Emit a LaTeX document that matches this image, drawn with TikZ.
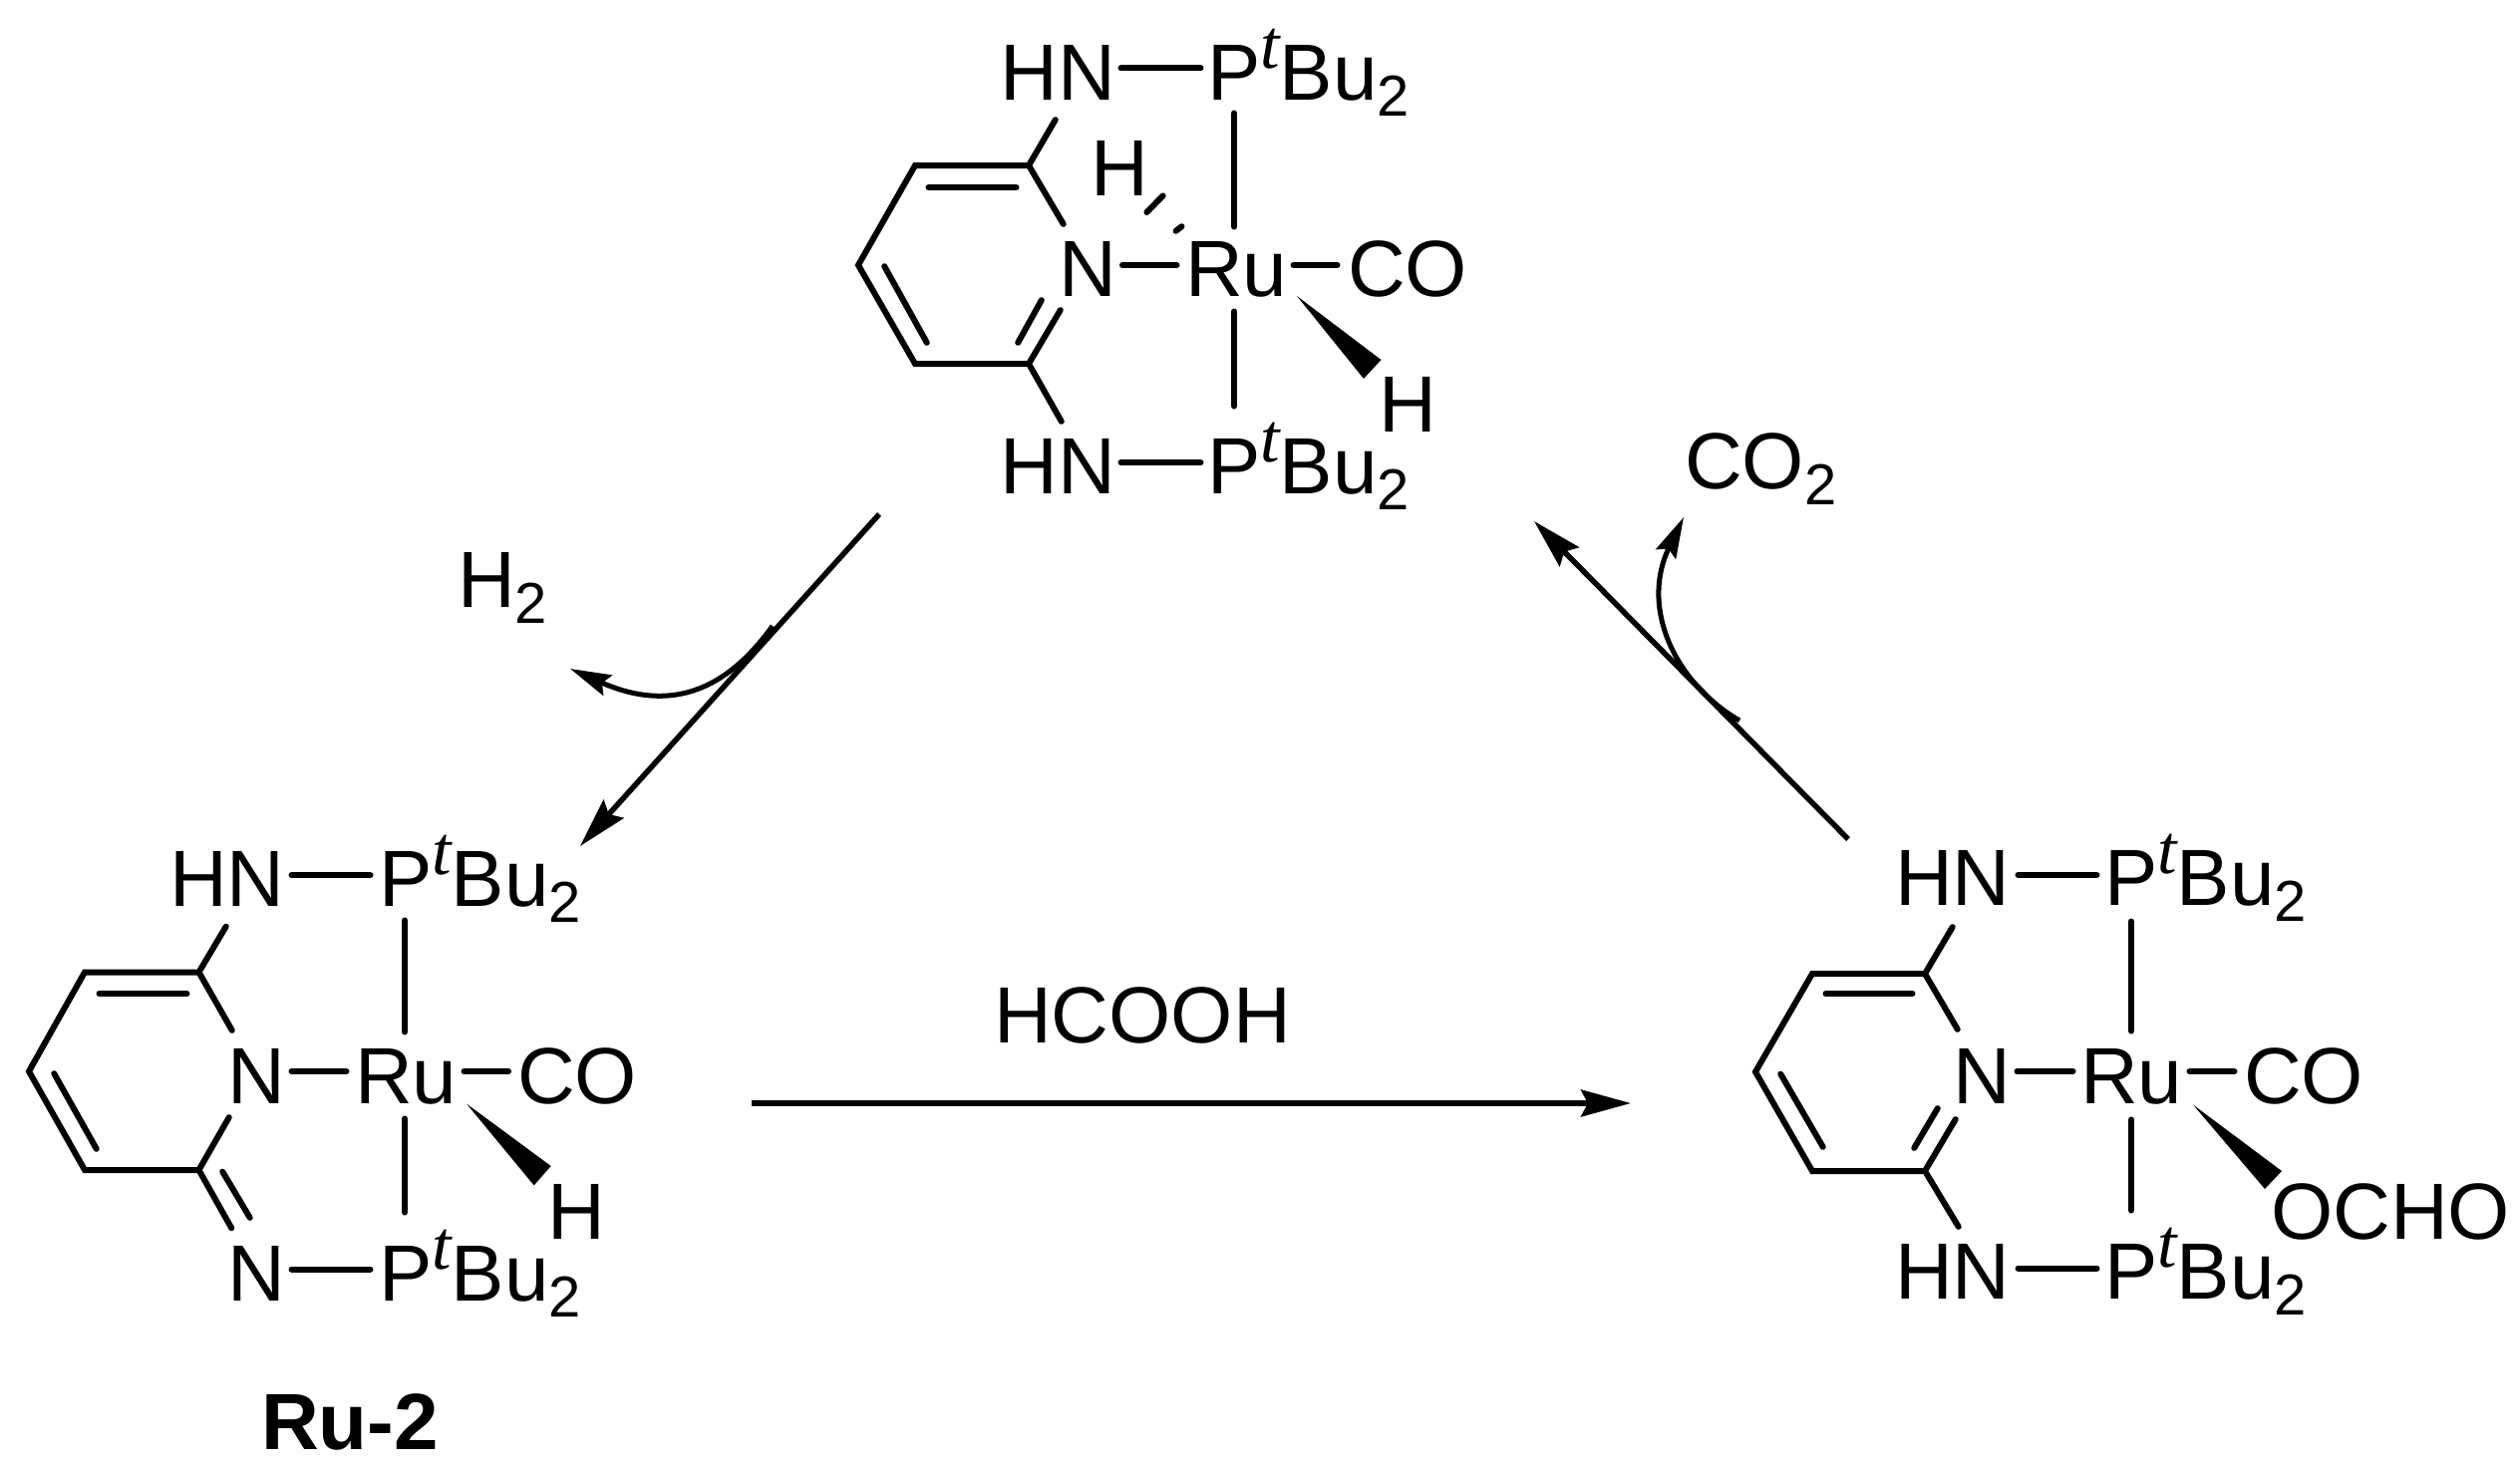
\documentclass[tikz,border=0pt]{standalone}
\usepackage{fontspec}
\setmainfont{Liberation Sans}
\newfontfamily\tfont{Liberation Serif}
\usetikzlibrary{arrows.meta}
\newcommand{\subtwo}{\raisebox{-16.5pt}{\fontsize{58}{58}\selectfont 2}}
\newcommand{\PtBu}{P\raisebox{32pt}{\fontsize{70}{70}\selectfont\tfont\itshape t}Bu\subtwo}
\tikzset{
  x=1pt,y=-1pt,
  atom/.style={anchor=base west,inner sep=0pt,outer sep=0pt,font=\fontsize{80}{80}\selectfont},
  boldlabel/.style={atom,font=\fontsize{80}{80}\selectfont\bfseries},
  bond/.style={draw=black,line width=6pt,line cap=round,line join=miter,shorten <=2.5pt,shorten >=2.5pt},
  hash/.style={draw=black,line width=6pt,line cap=round,shorten <=2pt,shorten >=2pt},
  wedge/.style={fill=black,draw=none},
  rxn/.style={draw=black,line width=5.5pt,-{Stealth[length=50pt,width=27pt,inset=7pt]}},
  loss/.style={draw=black,line width=5pt,-{Stealth[length=41pt,width=22pt,inset=6pt]}}
}
\begin{document}
\begin{tikzpicture}
\useasboundingbox (0,0) rectangle (2528,1472);

% ---------- top complex ----------
\node[atom] (tHN1) at (1003.5,100) {HN};
\node[atom] (tP1) at (1211,100) {\PtBu};
\node[atom] (tN) at (1062,297) {N};
\node[atom] (tRu) at (1189,297) {Ru};
\node[atom] (tCO) at (1352,297) {CO};
\node[atom] (tHN2) at (1003.5,495) {HN};
\node[atom] (tP2) at (1211,495) {\PtBu};
\node[atom] (tHa) at (1094,196) {H};
\node[atom] (tHb) at (1383,433) {H};
\coordinate (tr1) at (1032,166);
\coordinate (tr2) at (918,166);
\coordinate (tr3) at (861,266);
\coordinate (tr4) at (918,365);
\coordinate (tr5) at (1032,365);
\coordinate (tn1) at (1068,227);
\coordinate (tn2) at (1065,309);
\coordinate (th1) at (1060,118);
\coordinate (th2) at (1066,425);
\coordinate (ti1) at (929,188);
\coordinate (ti2) at (1022,188);
\coordinate (ti3) at (886,265);
\coordinate (ti4) at (931,346);
\coordinate (ti5) at (1046,299);
\coordinate (ti6) at (1020,346);
\coordinate (tb1) at (1122,68.5);
\coordinate (tb2) at (1207,68.5);
\coordinate (tb3) at (1122,464);
\coordinate (tb4) at (1207,464);
\coordinate (tv1) at (1238,111);
\coordinate (tv2) at (1238,230);
\coordinate (tv3) at (1238,310);
\coordinate (tv4) at (1238,410);
\coordinate (tm1) at (1123.5,266);
\coordinate (tm2) at (1183,266);
\coordinate (tm3) at (1295,266);
\coordinate (tm4) at (1344,266);
\coordinate (tw1) at (1301,297);
\coordinate (tw2) at (1385.5,361);
\coordinate (tw3) at (1368,380);
\coordinate (ts1) at (1168,195);
\coordinate (ts2) at (1149,214.5);
\coordinate (ts3) at (1187,226);
\coordinate (ts4) at (1178,233);
\draw[bond] (tn1) -- (tr1) -- (tr2) -- (tr3) -- (tr4) -- (tr5) -- (tn2);
\draw[bond] (tr1) -- (th1);
\draw[bond] (tr5) -- (th2);
\draw[bond] (ti1) -- (ti2);
\draw[bond] (ti3) -- (ti4);
\draw[bond] (ti5) -- (ti6);
\draw[bond] (tb1) -- (tb2);
\draw[bond] (tb3) -- (tb4);
\draw[bond] (tv1) -- (tv2);
\draw[bond] (tv3) -- (tv4);
\draw[bond] (tm1) -- (tm2);
\draw[bond] (tm3) -- (tm4);
\fill[wedge] (tw1) -- (tw2) -- (tw3) -- cycle;
\draw[hash] (ts1) -- (ts2);
\draw[hash] (ts3) -- (ts4);

% ---------- left complex (Ru-2) ----------
\node[atom] (lHN) at (170,909) {HN};
\node[atom] (lP1) at (380,909) {\PtBu};
\node[atom] (lN) at (228,1107.5) {N};
\node[atom] (lRu) at (356,1107.5) {Ru};
\node[atom] (lCO) at (519,1107.5) {CO};
\node[atom] (lN2) at (228,1305) {N};
\node[atom] (lP2) at (380,1305) {\PtBu};
\node[atom] (lH) at (549,1243) {H};
\node[boldlabel] (lname) at (262,1454) {Ru-2};
\coordinate (lr1) at (199.5,975.5);
\coordinate (lr2) at (85,975.5);
\coordinate (lr3) at (29,1075);
\coordinate (lr4) at (85,1174);
\coordinate (lr5) at (199.5,1174);
\coordinate (ln1) at (234,1036);
\coordinate (ln2) at (231,1119);
\coordinate (lh1) at (228,927.5);
\coordinate (lh2) at (233.5,1234.5);
\coordinate (li1) at (97,997);
\coordinate (li2) at (190,997);
\coordinate (li3) at (53,1075);
\coordinate (li4) at (98,1155);
\coordinate (li5) at (222,1173.5);
\coordinate (li6) at (252,1224);
\coordinate (lb1) at (290,878);
\coordinate (lb2) at (374,878);
\coordinate (lb3) at (290,1273.5);
\coordinate (lb4) at (374,1273.5);
\coordinate (lv1) at (406,921);
\coordinate (lv2) at (406,1038);
\coordinate (lv3) at (406,1120);
\coordinate (lv4) at (406,1219);
\coordinate (lm1) at (290,1075);
\coordinate (lm2) at (350,1075);
\coordinate (lm3) at (463,1075);
\coordinate (lm4) at (512.5,1075);
\coordinate (lw1) at (468,1107.5);
\coordinate (lw2) at (552.7,1170);
\coordinate (lw3) at (535.7,1189.4);
\draw[bond] (ln1) -- (lr1) -- (lr2) -- (lr3) -- (lr4) -- (lr5) -- (ln2);
\draw[bond] (lr1) -- (lh1);
\draw[bond] (lr5) -- (lh2);
\draw[bond] (li1) -- (li2);
\draw[bond] (li3) -- (li4);
\draw[bond] (li5) -- (li6);
\draw[bond] (lb1) -- (lb2);
\draw[bond] (lb3) -- (lb4);
\draw[bond] (lv1) -- (lv2);
\draw[bond] (lv3) -- (lv4);
\draw[bond] (lm1) -- (lm2);
\draw[bond] (lm3) -- (lm4);
\fill[wedge] (lw1) -- (lw2) -- (lw3) -- cycle;

% ---------- right complex ----------
\node[atom] (rHN1) at (1901,908) {HN};
\node[atom] (rP1) at (2111,908) {\PtBu};
\node[atom] (rN) at (1959,1107) {N};
\node[atom] (rRu) at (2087,1107) {Ru};
\node[atom] (rCO) at (2251,1107) {CO};
\node[atom] (rHN2) at (1901,1303) {HN};
\node[atom] (rP2) at (2111,1303) {\PtBu};
\node[atom] (rO) at (2278,1243) {OCHO};
\coordinate (rr1) at (1931,977);
\coordinate (rr2) at (1818,977);
\coordinate (rr3) at (1761,1075.5);
\coordinate (rr4) at (1818,1175);
\coordinate (rr5) at (1931,1175);
\coordinate (rn1) at (1965,1035);
\coordinate (rn2) at (1963,1121);
\coordinate (rh1) at (1960,928);
\coordinate (rh2) at (1966,1233);
\coordinate (ri1) at (1829,997);
\coordinate (ri2) at (1921,997);
\coordinate (ri3) at (1785,1075.5);
\coordinate (ri4) at (1830,1153);
\coordinate (ri5) at (1945,1110);
\coordinate (ri6) at (1919,1154);
\coordinate (rb1) at (2022,878);
\coordinate (rb2) at (2106,878);
\coordinate (rb3) at (2022,1272.5);
\coordinate (rb4) at (2106,1272.5);
\coordinate (rv1) at (2138,922);
\coordinate (rv2) at (2138,1037);
\coordinate (rv3) at (2138,1121);
\coordinate (rv4) at (2138,1217);
\coordinate (rm1) at (2021,1075);
\coordinate (rm2) at (2082,1075);
\coordinate (rm3) at (2194,1075);
\coordinate (rm4) at (2244,1075);
\coordinate (rw1) at (2200,1108.5);
\coordinate (rw2) at (2289,1175);
\coordinate (rw3) at (2272,1193);
\draw[bond] (rn1) -- (rr1) -- (rr2) -- (rr3) -- (rr4) -- (rr5) -- (rn2);
\draw[bond] (rr1) -- (rh1);
\draw[bond] (rr5) -- (rh2);
\draw[bond] (ri1) -- (ri2);
\draw[bond] (ri3) -- (ri4);
\draw[bond] (ri5) -- (ri6);
\draw[bond] (rb1) -- (rb2);
\draw[bond] (rb3) -- (rb4);
\draw[bond] (rv1) -- (rv2);
\draw[bond] (rv3) -- (rv4);
\draw[bond] (rm1) -- (rm2);
\draw[bond] (rm3) -- (rm4);
\fill[wedge] (rw1) -- (rw2) -- (rw3) -- cycle;

% ---------- reaction arrows and labels ----------
\node[atom] (hh) at (459,609) {H\subtwo};
\node[atom] (co2) at (1690,490) {CO\subtwo};
\node[atom] (acid) at (997,1046) {HCOOH};
\coordinate (a1s) at (882,516);
\coordinate (a1e) at (582,849);
\coordinate (a2s) at (754,1107);
\coordinate (a2e) at (1636,1107);
\coordinate (a3s) at (1854,842);
\coordinate (a3e) at (1539,523);
\coordinate (c1s) at (775,628);
\coordinate (c1a) at (720,705);
\coordinate (c1b) at (660,710);
\coordinate (c1e) at (572,671);
\coordinate (c2s) at (1745,723);
\coordinate (c2a) at (1680,685);
\coordinate (c2b) at (1645,610);
\coordinate (c2e) at (1689,519);
\draw[rxn] (a1s) -- (a1e);
\draw[rxn] (a2s) -- (a2e);
\draw[rxn] (a3s) -- (a3e);
\draw[loss] (c1s) .. controls (c1a) and (c1b) .. (c1e);
\draw[loss] (c2s) .. controls (c2a) and (c2b) .. (c2e);
\end{tikzpicture}
\end{document}
